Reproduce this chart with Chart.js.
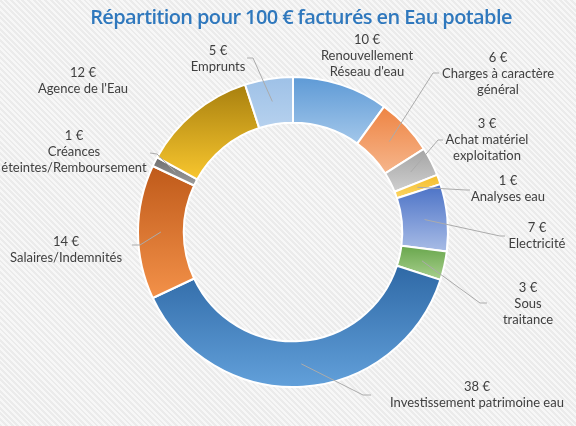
<!DOCTYPE html>
<html>
<head>
<meta charset="utf-8">
<script src="https://cdn.jsdelivr.net/npm/chart.js@4.4.0/dist/chart.umd.min.js"></script>
<style>
  html, body { margin:0; padding:0; }
  body {
    width:576px; height:426px; overflow:hidden;
    background: repeating-linear-gradient(45deg, #ebebeb 0px, #ebebeb 2px, #f7f7f7 2px, #f7f7f7 4px);
  }
  #wrap { position:relative; width:576px; height:426px; }
</style>
</head>
<body>
<div id="wrap"><canvas id="c" width="576" height="426"></canvas></div>
<script>
// ---- data ----
const categories = [
  "Renouvellement Réseau d'eau",
  "Charges à caractère général",
  "Achat matériel exploitation",
  "Analyses eau",
  "Electricité",
  "Sous traitance",
  "Investissement patrimoine eau",
  "Salaires/Indemnités",
  "Créances éteintes/Remboursement",
  "Agence de l'Eau",
  "Emprunts"
];
const values = [10, 6, 3, 1, 7, 3, 38, 14, 1, 12, 5];
const nameLines = [
  ["Renouvellement", "Réseau d'eau"],
  ["Charges à caractère", "général"],
  ["Achat matériel", "exploitation"],
  ["Analyses eau"],
  ["Electricité"],
  ["Sous", "traitance"],
  ["Investissement patrimoine eau"],
  ["Salaires/Indemnités"],
  ["Créances", "éteintes/Remboursement"],
  ["Agence de l'Eau"],
  ["Emprunts"]
];
const titleText = "Répartition pour 100 € facturés en Eau potable";

// ---- styles ----
const colorsTop    = ["#5e9ad6", "#ee8443", "#a4a4a4", "#f3bd2a", "#4a71c6", "#68a64c", "#2f69a6", "#bf5a1a", "#6e6e6e", "#a8800f", "#9ec1e7"];
const colorsBottom = ["#a3c7ea", "#f6b68c", "#cfcfcf", "#fcd565", "#a8bce6", "#a9d08e", "#62a0da", "#f39149", "#9c9c9c", "#f8c62e", "#b6d1ee"];

// ---- label layout (annotation positions) ----
const labelPos = [
  [367, 40], [498, 58], [487, 124], [508, 181], [537, 228], [528, 288],
  [477, 387], [66, 242], [74, 136], [83, 73], [218, 51]
];
const leaderPts = [
  null,
  [[433, 73], [439, 73]],
  [[438, 140], [443, 140]],
  [[466, 190], [470, 190]],
  [[500, 236], [505, 236]],
  [[480, 303], [487, 303]],
  [[363, 395], [371, 395]],
  [[140, 245], [132, 245]],
  [[157, 154], [150, 153]],
  null,
  [[253, 58], [247, 58]]
];
const lineHeight = 16;
const titleBox = { cx: 301, baseline: 24, width: 422 };

const gradPlugin = {
  id: 'grad',
  beforeDatasetsDraw(chart) {
    const meta = chart.getDatasetMeta(0);
    const ctx = chart.ctx;
    meta.data.forEach((arc, i) => {
      const p = arc.getProps(['x', 'y', 'startAngle', 'endAngle', 'innerRadius', 'outerRadius'], true);
      let minY = Infinity, maxY = -Infinity;
      for (let k = 0; k <= 40; k++) {
        const a = p.startAngle + (p.endAngle - p.startAngle) * k / 40;
        for (const r of [p.innerRadius, p.outerRadius]) {
          const py = p.y + r * Math.sin(a);
          if (py < minY) minY = py;
          if (py > maxY) maxY = py;
        }
      }
      const g = ctx.createLinearGradient(0, minY, 0, maxY);
      g.addColorStop(0, colorsTop[i]);
      g.addColorStop(1, colorsBottom[i]);
      arc.options.backgroundColor = g;
    });
  }
};

const labelPlugin = {
  id: 'labels',
  afterDatasetsDraw(chart) {
    const meta = chart.getDatasetMeta(0);
    const ctx = chart.ctx;
    ctx.save();
    // leader lines
    ctx.strokeStyle = '#ababab';
    ctx.lineWidth = 1;
    meta.data.forEach((arc, i) => {
      const pts = leaderPts[i];
      if (!pts) return;
      const s = arc.tooltipPosition(true);
      ctx.beginPath();
      ctx.moveTo(s.x, s.y);
      pts.forEach(q => ctx.lineTo(q[0], q[1]));
      ctx.stroke();
    });
    // texts
    ctx.fillStyle = '#404040';
    ctx.font = '13px Lato, "Open Sans", sans-serif';
    ctx.textAlign = 'center';
    ctx.textBaseline = 'middle';
    values.forEach((v, i) => {
      const lines = [v + ' €'].concat(nameLines[i]);
      const [x, y] = labelPos[i];
      lines.forEach((t, j) => ctx.fillText(t, x, y + j * lineHeight));
    });
    // title
    ctx.font = '600 20px "Open Sans", Lato, sans-serif';
    ctx.fillStyle = '#2f78bd';
    ctx.textBaseline = 'alphabetic';
    const w = ctx.measureText(titleText).width;
    if ('letterSpacing' in ctx) {
      ctx.letterSpacing = ((titleBox.width - w) / (titleText.length - 1)).toFixed(2) + 'px';
      ctx.textAlign = 'left';
      const w2 = ctx.measureText(titleText).width;
      ctx.fillText(titleText, titleBox.cx - w2 / 2, titleBox.baseline);
    } else {
      ctx.textAlign = 'center';
      ctx.translate(titleBox.cx, titleBox.baseline);
      ctx.scale(titleBox.width / w, 1);
      ctx.fillText(titleText, 0, 0);
    }
    ctx.restore();
  }
};

new Chart(document.getElementById('c'), {
  type: 'doughnut',
  data: {
    labels: categories,
    datasets: [{
      data: values,
      backgroundColor: colorsTop,
      borderColor: '#ffffff',
      borderWidth: 2
    }]
  },
  options: {
    responsive: false,
    animation: false,
    cutout: '70.5%',
    rotation: 0,
    layout: { padding: { left: 137, right: 127, top: 76, bottom: 38 } },
    plugins: {
      legend: { display: false },
      tooltip: { enabled: false },
      title: { display: false }
    }
  },
  plugins: [gradPlugin, labelPlugin]
});
</script>
</body>
</html>
